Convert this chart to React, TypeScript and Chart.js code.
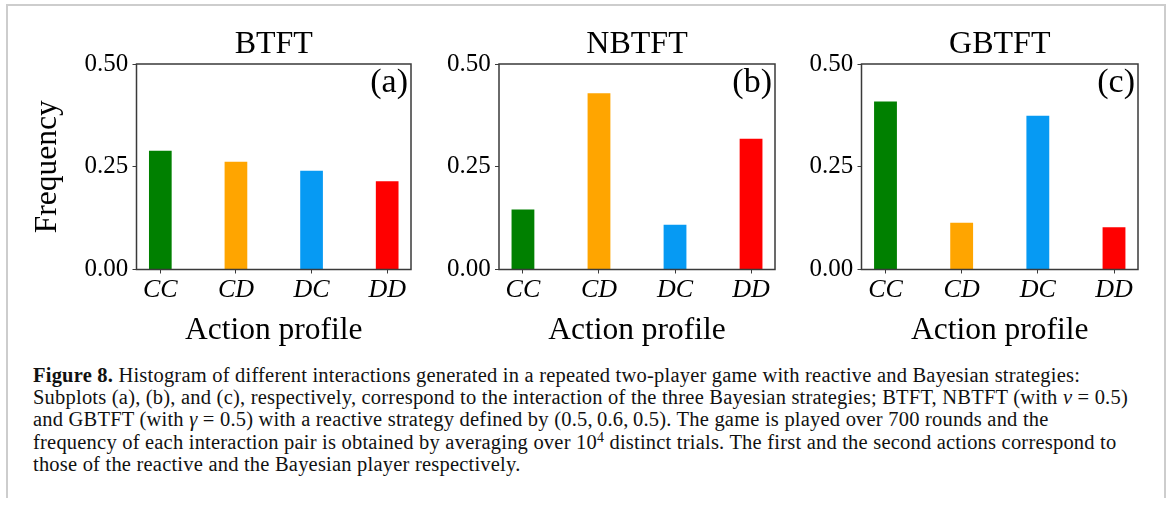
import { useEffect, useRef } from "react";
import { Chart, registerables } from "chart.js";

Chart.register(...registerables);

const SERIF = "'Liberation Serif', 'Times New Roman', serif";

// Action profiles (reactive player's action, Bayesian player's action)
const profiles = ["CC", "CD", "DC", "DD"];
const barColors = ["#008000", "#FFA500", "#069AF3", "#FF0000"];

// Frequency of each action profile for the three Bayesian strategies
const btftFreq = [0.289, 0.262, 0.24, 0.215];
const nbtftFreq = [0.146, 0.429, 0.109, 0.318];
const gbtftFreq = [0.409, 0.114, 0.374, 0.103];

const yTicks = [0, 0.25, 0.5];

type PanelProps = {
  title: string;
  letter: string;
  values: number[];
  showYTitle: boolean;
  left: number;
  top: number;
  width: number;
  height: number;
  yAxisWidth: number;
  padRight: number;
};

const CHART_TOP = 54;
const CHART_BOTTOM = 259.5;

function Panel(props: PanelProps) {
  const ref = useRef<HTMLCanvasElement | null>(null);

  useEffect(() => {
    const canvas = ref.current;
    if (!canvas) return;

    const framePlugin = {
      id: "frame",
      afterDraw(chart: any) {
        const { ctx, chartArea } = chart;
        ctx.save();
        ctx.strokeStyle = "#3a3a3a";
        ctx.lineWidth = 1.5;
        ctx.strokeRect(
          chartArea.left,
          chartArea.top,
          chartArea.right - chartArea.left,
          chartArea.bottom - chartArea.top
        );
        ctx.fillStyle = "#000";
        ctx.font = `34px ${SERIF}`;
        ctx.textAlign = "right";
        ctx.textBaseline = "alphabetic";
        ctx.fillText(props.letter, chartArea.right - 3, chartArea.top + 28);
        ctx.restore();
      },
    };

    const xHeight = props.height - CHART_BOTTOM;

    const chart = new Chart(canvas, {
      type: "bar",
      data: {
        datasets: [
          {
            data: props.values.map((v, i) => ({ x: i, y: v })),
            backgroundColor: barColors,
            borderWidth: 0,
            barPercentage: 0.3,
            categoryPercentage: 1,
          },
        ],
      },
      options: {
        responsive: false,
        animation: false,
        devicePixelRatio: 1,
        layout: { padding: { left: 0, right: props.padRight, top: 0, bottom: 0 } },
        plugins: {
          legend: { display: false },
          tooltip: { enabled: false },
          title: {
            display: true,
            text: props.title,
            color: "#000",
            fullSize: false,
            font: { family: SERIF, size: 32, weight: "normal", lineHeight: 1 },
            padding: { top: 18.3, bottom: CHART_TOP - 18.3 - 32 },
          },
        },
        scales: {
          x: {
            type: "linear",
            min: -0.315,
            max: 3.315,
            offset: false,
            afterBuildTicks: (scale: any) => {
              scale.ticks = profiles.map((_, i) => ({ value: i }));
            },
            afterFit: (scale: any) => {
              scale.height = xHeight;
            },
            grid: {
              display: true,
              drawOnChartArea: false,
              drawTicks: true,
              tickLength: 4,
              tickColor: "#3a3a3a",
              offset: false,
            },
            border: { display: false },
            ticks: {
              autoSkip: false,
              maxRotation: 0,
              padding: 3.3,
              color: "#000",
              font: { family: SERIF, size: 26, style: "italic", lineHeight: 1 },
              callback: (v: any) => profiles[Math.round(Number(v))] ?? "",
            },
            title: {
              display: true,
              text: "Action profile",
              color: "#000",
              font: { family: SERIF, size: 31.5, lineHeight: 1 },
              padding: { top: 0, bottom: 3.85 },
            },
          },
          y: {
            min: 0,
            max: 0.5,
            afterBuildTicks: (scale: any) => {
              scale.ticks = yTicks.map((v) => ({ value: v }));
            },
            afterFit: (scale: any) => {
              scale.width = props.yAxisWidth;
            },
            grid: {
              display: true,
              drawOnChartArea: false,
              drawTicks: true,
              tickLength: 4,
              tickColor: "#3a3a3a",
            },
            border: { display: false },
            ticks: {
              padding: 4.2,
              color: "#000",
              font: { family: SERIF, size: 25, lineHeight: 1 },
              callback: (v: any) => Number(v).toFixed(2),
            },
            title: {
              display: props.showYTitle,
              text: "Frequency",
              color: "#000",
              font: { family: SERIF, size: 31.5, lineHeight: 1 },
              padding: { top: 21.5, bottom: 0 },
            },
          },
        },
      },
      plugins: [framePlugin],
    } as any);

    return () => chart.destroy();
  }, [props]);

  return (
    <canvas
      ref={ref}
      width={props.width}
      height={props.height}
      style={{
        position: "absolute",
        left: props.left,
        top: props.top,
        width: props.width,
        height: props.height,
      }}
    />
  );
}

const panelA: PanelProps = {
  title: "BTFT",
  letter: "(a)",
  values: btftFreq,
  showYTitle: true,
  left: 10,
  top: 10,
  width: 410,
  height: 340,
  yAxisWidth: 126.5,
  padRight: 9,
};
const panelB: PanelProps = {
  title: "NBTFT",
  letter: "(b)",
  values: nbtftFreq,
  showYTitle: false,
  left: 430,
  top: 10,
  width: 355,
  height: 340,
  yAxisWidth: 69,
  padRight: 10,
};
const panelC: PanelProps = {
  title: "GBTFT",
  letter: "(c)",
  values: gbtftFreq,
  showYTitle: false,
  left: 795,
  top: 10,
  width: 355,
  height: 340,
  yAxisWidth: 66.5,
  padRight: 12,
};

const lineStyle: React.CSSProperties = {
  height: 22.4,
  lineHeight: "22.4px",
  whiteSpace: "nowrap",
};

const sup: React.CSSProperties = {
  fontSize: "0.68em",
  position: "relative",
  top: "-0.5em",
  verticalAlign: "baseline",
};

const eq = "\u2005=\u2005";

export default function App() {
  return (
    <div
      style={{
        position: "absolute",
        left: 0,
        top: 0,
        width: 1167,
        height: 506,
        background: "#fff",
        overflow: "hidden",
      }}
    >
      <div
        style={{
          position: "absolute",
          left: 6,
          top: 4,
          width: 1156,
          height: 492,
          borderTop: "2px solid #cdcdcd",
          borderLeft: "2px solid #cdcdcd",
          borderRight: "2px solid #cdcdcd",
        }}
      />
      <Panel {...panelA} />
      <Panel {...panelB} />
      <Panel {...panelC} />
      <div
        style={{
          position: "absolute",
          left: 33,
          top: 363.5,
          fontFamily: SERIF,
          fontSize: 20.5,
          letterSpacing: "0.21px",
          color: "#111",
        }}
      >
        <div style={lineStyle}>
          <b>Figure 8.</b> Histogram of different interactions generated in a repeated two-player game with reactive and Bayesian strategies:
        </div>
        <div style={lineStyle}>
          Subplots (a), (b), and (c), respectively, correspond to the interaction of the three Bayesian strategies; BTFT, NBTFT (with <i>ν</i>{eq}0.5)
        </div>
        <div style={lineStyle}>
          and GBTFT (with <i>γ</i>{eq}0.5) with a reactive strategy defined by (0.5,&#8201;0.6,&#8201;0.5). The game is played over 700 rounds and the
        </div>
        <div style={lineStyle}>
          frequency of each interaction pair is obtained by averaging over 10<span style={sup}>4</span> distinct trials. The first and the second actions correspond to
        </div>
        <div style={lineStyle}>those of the reactive and the Bayesian player respectively.</div>
      </div>
    </div>
  );
}
